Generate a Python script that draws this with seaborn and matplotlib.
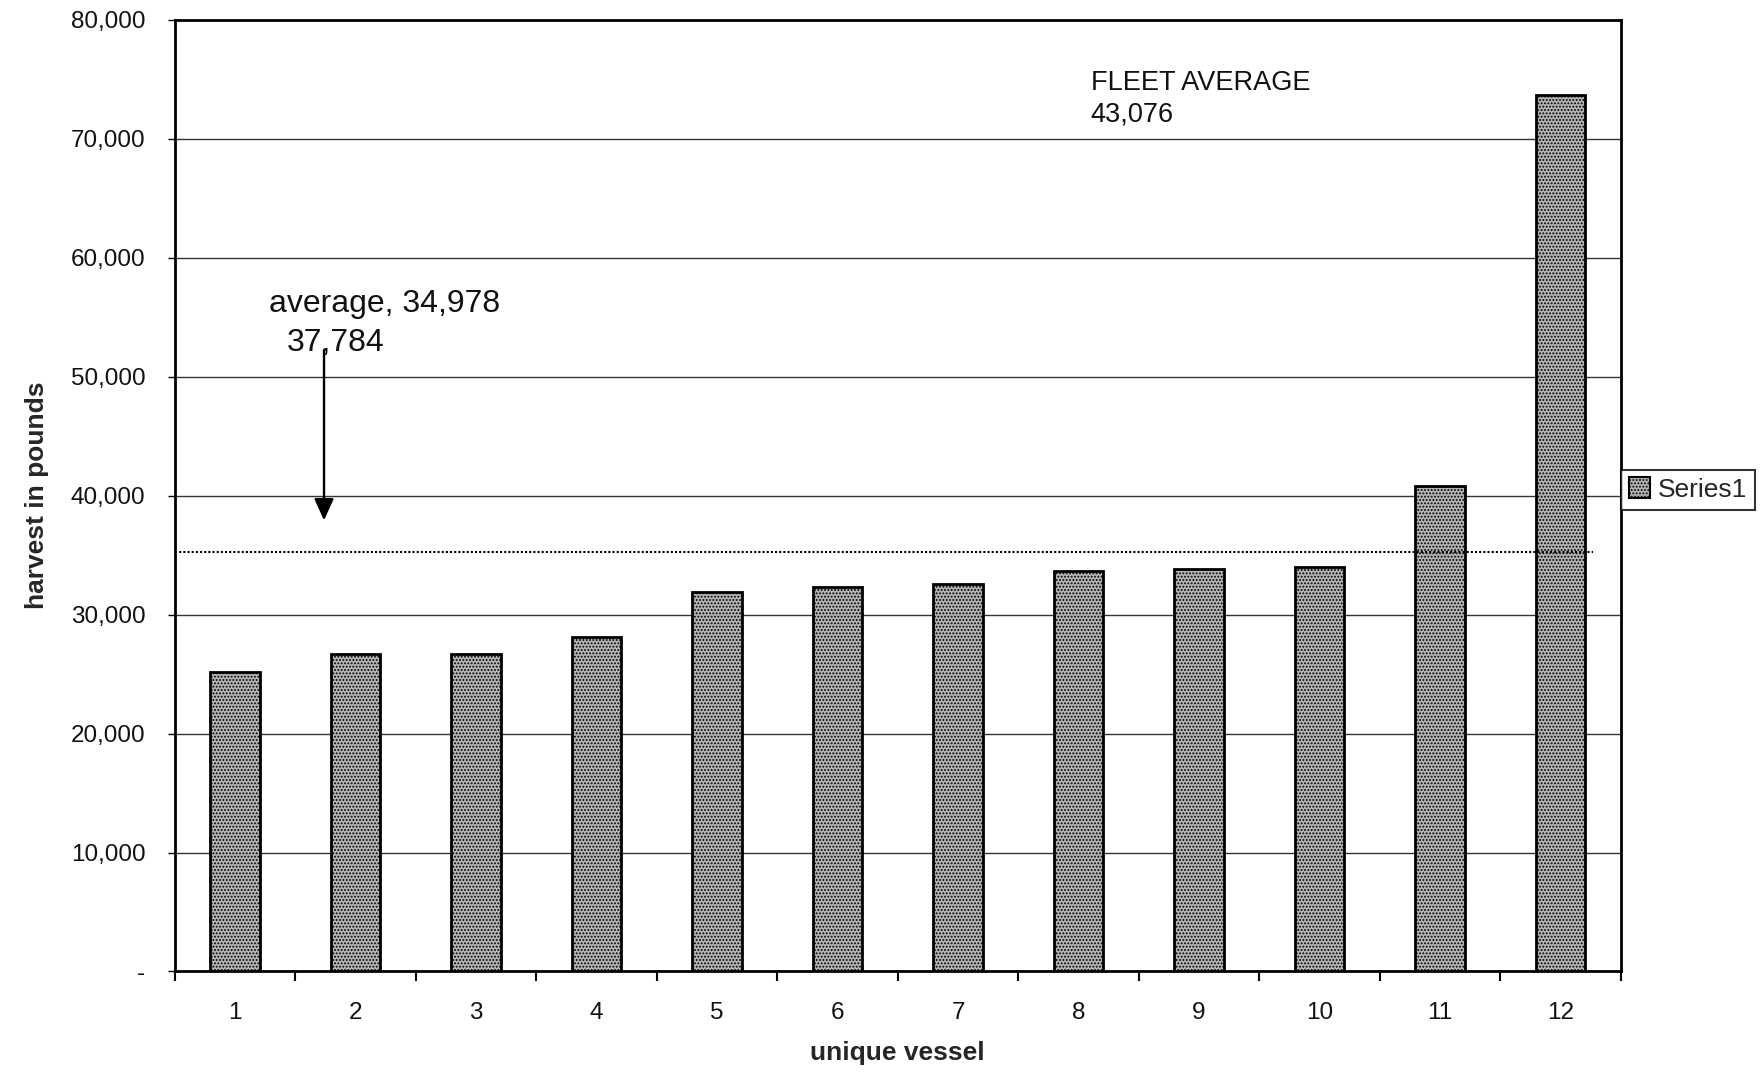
import matplotlib
matplotlib.use("Agg")
import matplotlib.pyplot as plt
import seaborn as sns
import pandas as pd
from matplotlib.patches import Patch
from matplotlib.ticker import FuncFormatter, FixedLocator

vessels = ["1", "2", "3", "4", "5", "6", "7", "8", "9", "10", "11", "12"]
harvest = [25200, 26700, 26700, 28100, 31900, 32300, 32600, 33700, 33800, 34000, 40800, 73700]
avg_line = 35300
series_name = "Series1"
arrow_top = 52500
arrow_tip = 37700

sns.set_theme(style="white")
plt.rcParams['font.family'] = ['Liberation Sans', 'DejaVu Sans']
plt.rcParams['hatch.linewidth'] = 0.9

df = pd.DataFrame({"vessel": vessels, "harvest": harvest})

fig = plt.figure(figsize=(17.65, 10.75), dpi=100)
ax = fig.add_axes([0.0989, 0.0963, 0.8195, 0.8851])

bar_face = "#b4b4b4"
sns.barplot(data=df, x="vessel", y="harvest", color=bar_face, width=0.41,
            edgecolor="black", linewidth=2.0, ax=ax, zorder=3)
for p in ax.patches:
    p.set_hatch(".....")

ax.set_ylim(0, 80000)
ax.set_xlim(-0.5, 11.5)
ax.set_yticks(range(0, 80001, 10000))
ax.yaxis.set_major_formatter(FuncFormatter(lambda v, _: "-" if v == 0 else f"{int(v):,}"))
ax.yaxis.grid(True, color="#333333", linewidth=1.0, zorder=0)
ax.xaxis.grid(False)

# x tick boundaries
ax.xaxis.set_minor_locator(FixedLocator([i - 0.5 for i in range(13)]))
ax.tick_params(axis="x", which="major", length=0, pad=22, labelsize=17.5, labelcolor="#111111")
ax.tick_params(axis="x", which="minor", length=7, width=1.5, direction="out", bottom=True, color="black")
ax.tick_params(axis="y", which="major", length=5, width=1.0, direction="out", left=True, pad=16, labelsize=17.5,
               color="black", labelcolor="#111111")

for s in ax.spines.values():
    s.set_color("black")
    s.set_linewidth(2.0)

ax.set_xlabel("unique vessel", fontsize=19, fontweight="bold", labelpad=12)
ax.set_ylabel("harvest in pounds", fontsize=19, fontweight="bold", labelpad=16)

# dotted average line
ax.plot([-0.5, 11.27], [avg_line, avg_line], linestyle=(0, (1, 1)), color="black", linewidth=1.5, zorder=4)

# annotations
ax.annotate("", xy=(0.74, arrow_tip), xytext=(0.74, arrow_top),
            arrowprops=dict(arrowstyle="-|>,head_width=0.5,head_length=1.1", color="black", linewidth=1.7),
            zorder=5)
ax.text(0.28, 56100, "average, 34,978", fontsize=23, va="center", ha="left", zorder=6, color="#111111")
ax.text(0.43, 52800, "37,784", fontsize=23, va="center", ha="left", zorder=6, color="#111111")
ax.text(7.10, 74700, "FLEET AVERAGE", fontsize=19.5, va="center", ha="left", color="#111111")
ax.text(7.10, 72050, "43,076", fontsize=19.5, va="center", ha="left", color="#111111")

leg = ax.legend(handles=[Patch(facecolor=bar_face, edgecolor="black", hatch=".....", linewidth=1.5, label=series_name)],
                loc="center left", bbox_to_anchor=(1.0, 0.5065), frameon=True, fancybox=False,
                fontsize=19, handlelength=0.8, handleheight=0.8, handletextpad=0.3, borderpad=0.3,
                borderaxespad=0)
leg.get_frame().set_edgecolor("black")
leg.get_frame().set_linewidth(1.5)

fig.savefig("out.png", dpi=100)
